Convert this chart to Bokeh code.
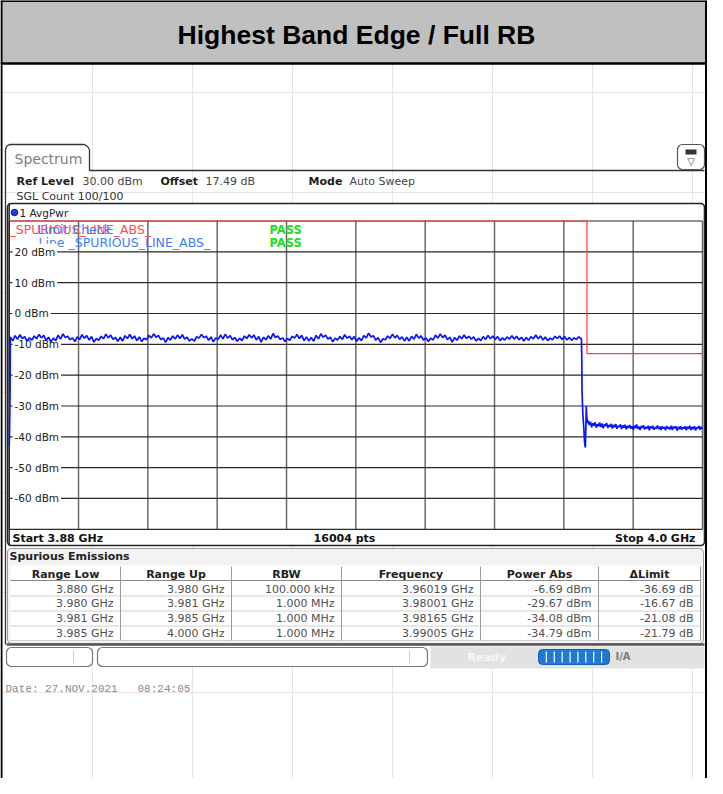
import numpy as np
from bokeh.plotting import figure
from bokeh.models import Range1d
from bokeh.core.properties import value
from bokeh.embed import file_html
from bokeh.resources import INLINE

# ---------------- data ----------------
title = "Highest Band Edge / Full RB"
freq_start, freq_stop = 3.88, 4.0
freq_div = 0.012
db_ticks = [30, 20, 10, 0, -10, -20, -30, -40, -50, -60, -70]
db_labels = ["20 dBm", "10 dBm", "0 dBm", "-10 dBm", "-20 dBm", "-30 dBm", "-40 dBm", "-50 dBm", "-60 dBm"]
db_label_vals = [20, 10, 0, -10, -20, -30, -40, -50, -60]

limit_f = [3.88, 3.98, 3.98, 4.0]
limit_db = [30, 30, -13, -13]

start_f = [3.8800, 3.88003, 3.88006, 3.8801, 3.88015]
start_db = [-43.0, -41.0, -38.0, -33.0, -25.0]

inband_db = [
    -7.6, -8.9, -7.2, -8.4, -6.9, -8.1, -7.5, -9.0, -7.9, -8.6,
    -7.3, -8.2, -6.8, -7.9, -7.1, -8.7, -7.7, -9.2, -8.0, -8.8,
    -7.0, -8.3, -6.6, -7.8, -7.4, -8.5, -7.9, -9.1, -7.6, -8.4,
    -6.9, -8.0, -7.2, -8.6, -7.5, -9.3, -8.1, -8.7, -7.4, -8.2,
    -6.7, -7.9, -7.0, -8.4, -7.8, -9.0, -7.7, -8.9, -7.2, -8.1,
    -6.8, -8.2, -7.3, -8.8, -7.6, -9.1, -8.0, -8.5, -7.1, -7.9,
    -6.6, -7.7, -7.1, -8.5, -7.9, -9.4, -7.8, -8.6, -7.3, -8.3,
    -7.0, -8.1, -6.9, -8.3, -7.7, -8.9, -8.2, -9.0, -7.5, -8.0,
    -6.8, -7.8, -7.4, -8.7, -7.6, -9.2, -7.9, -8.4, -7.0, -8.2,
    -6.7, -8.0, -7.2, -8.5, -7.8, -9.0, -8.0, -8.8, -7.3, -8.1,
    -6.9, -7.9, -7.0, -8.6, -7.5, -9.3, -7.7, -8.5, -7.2, -8.3,
    -6.5, -7.8, -7.3, -8.4, -7.9, -9.1, -8.1, -8.7, -7.4, -8.0,
    -6.8, -8.1, -7.1, -8.8, -7.6, -8.9, -7.8, -9.0, -7.1, -8.2,
    -6.6, -7.7, -7.0, -8.3, -7.7, -9.2, -8.0, -8.6, -7.5, -8.4,
    -6.9, -8.0, -7.4, -8.5, -7.5, -9.0, -7.9, -8.8, -7.2, -7.9,
    -6.4, -7.6, -7.2, -8.7, -7.8, -9.4, -8.2, -8.5, -7.3, -8.1,
    -6.7, -7.9, -7.1, -8.4, -7.6, -8.9, -7.7, -8.9, -7.4, -8.3,
    -6.8, -8.0, -7.3, -8.6, -7.9, -9.1, -8.0, -8.6, -7.0, -8.0,
    -6.6, -7.8, -7.0, -8.5, -7.7, -9.3, -7.8, -8.7, -7.3, -8.2,
    -7.0, -8.1, -7.4, -8.3, -7.6, -8.9, -8.1, -8.8, -7.5, -8.4,
    -7.1, -8.2, -7.3, -8.4, -7.5, -8.8, -7.9, -8.6, -7.6, -8.3,
    -7.2, -8.3, -7.4, -8.5, -7.7, -8.9, -7.8, -8.7, -7.5, -8.2,
    -7.0, -8.2, -7.3, -8.6, -7.6, -8.8, -8.0, -8.5, -7.4, -8.1,
    -7.3, -8.4, -7.5, -8.6, -7.8, -8.7, -7.9, -8.4, -7.6, -8.2,
]
inband_f0, inband_f1 = 3.8802, 3.9790

edge_f = [3.97905, 3.9791, 3.97915, 3.9793, 3.97945, 3.9796, 3.97972, 3.9798, 3.97988, 3.97995, 3.9801]
edge_db = [-8.2, -14.0, -25.0, -33.0, -37.0, -42.0, -43.5, -38.0, -30.0, -33.0, -35.5]

oob_db = [
    -34.8, -36.2, -35.1, -36.9, -35.6, -36.4, -35.3, -37.0, -35.9, -36.6,
    -35.4, -36.8, -35.7, -37.2, -36.0, -36.5, -35.5, -37.1, -36.2, -36.7,
    -35.8, -37.3, -36.1, -36.9, -35.9, -37.4, -36.4, -36.8, -36.0, -37.5,
    -36.3, -37.0, -36.1, -37.6, -36.5, -37.1, -36.2, -37.3, -36.6, -37.7,
    -36.4, -37.2, -36.0, -37.4, -36.7, -37.8, -36.5, -37.1, -36.3, -37.6,
    -36.8, -37.3, -36.4, -37.9, -36.6, -37.2, -36.5, -37.7, -36.9, -37.4,
    -36.3, -37.5, -36.7, -37.8, -36.6, -37.3, -36.8, -37.9, -36.5, -37.4,
    -36.9, -37.6, -36.4, -37.8, -36.7, -37.2, -36.6, -38.0, -36.8, -37.5,
    -36.5, -37.7, -36.9, -37.3, -36.6, -37.9, -36.7, -37.4, -36.4, -37.8,
    -36.8, -37.5, -36.6, -37.9, -36.9, -37.3, -36.5, -37.7, -36.8, -37.4,
]
oob_f0, oob_f1 = 3.9802, 4.0

tbl_head = ["Range Low", "Range Up", "RBW", "Frequency", "Power Abs", "\u0394Limit"]
range_low = ["3.880 GHz", "3.980 GHz", "3.981 GHz", "3.985 GHz"]
range_up = ["3.980 GHz", "3.981 GHz", "3.985 GHz", "4.000 GHz"]
rbw = ["100.000 kHz", "1.000 MHz", "1.000 MHz", "1.000 MHz"]
peak_freq = ["3.96019 GHz", "3.98001 GHz", "3.98165 GHz", "3.99005 GHz"]
power_abs = ["-6.69 dBm", "-29.67 dBm", "-34.08 dBm", "-34.79 dBm"]
delta_limit = ["-36.69 dB", "-16.67 dB", "-21.08 dB", "-21.79 dB"]

# ---------------- canvas (page pixel coordinates) ----------------
W, H = 707, 778
p = figure(width=W, height=H, x_range=Range1d(8, 8 + W), y_range=Range1d(8 + H, 8),
           output_backend="svg", toolbar_location=None,
           x_axis_location=None, y_axis_location=None, min_border=0)
p.outline_line_color = None
p.background_fill_color = "white"
p.border_fill_color = "white"

# spectrum grid placement on page
X0, X1 = 16.7, 710.0
Y0, Y1 = 228.5, 536.8
kx = (freq_stop - freq_start) / (X1 - X0)
ky = (db_ticks[0] - db_ticks[-1]) / (Y1 - Y0)
p.extra_x_ranges = {"f": Range1d(freq_start - (X0 - 8) * kx, freq_stop + (8 + W - X1) * kx)}
p.extra_y_ranges = {"d": Range1d(db_ticks[-1] - (8 + H - Y1) * ky, db_ticks[0] + (Y0 - 8) * ky)}

SANS = value("DejaVu Sans")


def txt(x, y, s, size="11px", color="#222222", bold=False, align="left", font=SANS, **kw):
    p.text(x=[x], y=[y], text=[s], text_font=font, text_font_size=size, text_color=color,
           text_font_style="bold" if bold else "normal", text_align=align, text_baseline="middle", **kw)


def box(l, r, t, b, fill="white", line="#666666", lw=1.0, radius=0):
    p.quad(left=[l], right=[r], top=[t], bottom=[b], fill_color=fill, line_color=line,
           line_width=lw, border_radius=radius)


# ---------------- outer frame / title ----------------
box(8, 715, 8, 71, fill="#c0c0c0", line=None)
p.line([8, 715], [8.5, 8.5], line_color="black", line_width=2)
p.line([8, 715], [71, 71], line_color="black", line_width=2.5)
p.line([9, 9], [8, 786], line_color="black", line_width=2)
p.line([714, 714], [8, 786], line_color="black", line_width=3)
txt(364, 42, title, size="26.5px", color="black", bold=True, align="center", font=value("Liberation Sans"))

# ---------------- spectrum window ----------------
tab_x = [13, 13, 14, 17, 92, 95, 97, 97, 712]
tab_y = [652, 157, 154, 152, 152, 154, 157, 178, 178]
p.line(tab_x, tab_y, line_color="#333333", line_width=1.3)
txt(22, 166, "Spectrum", size="14px", color="#808080")
box(685, 712, 152, 177, fill="white", line="#555555", lw=1.2, radius=5)
box(693, 704, 157, 162, fill="#333333", line=None)
txt(698.5, 169, "\u25bd", size="10px", color="#444444", align="center")

txt(24, 189, "Ref Level", bold=True)
txt(90, 189, "30.00 dBm", color="#444444")
txt(168, 189, "Offset", bold=True)
txt(213, 189, "17.49 dB", color="#444444")
txt(316, 189, "Mode", bold=True)
txt(357, 189, "Auto Sweep", color="#444444")
txt(24, 204, "SGL Count 100/100", color="#333333")

# diagram box
box(15, 712, 211, 553, fill="white", line="#222222", lw=1.6, radius=4)
p.circle(x=[22], y=[220], radius=3.3, fill_color="#1f3cff", line_color="#000066", line_width=0.8)
txt(27, 220, "1 AvgPwr", size="10.5px", color="#222222")

# grid
gx = [freq_start + freq_div * i for i in range(11)]
p.multi_line(xs=[[g, g] for g in gx], ys=[[db_ticks[0], db_ticks[-1]]] * len(gx),
             x_range_name="f", y_range_name="d", line_color="#6a6a6a", line_width=1.5)
p.multi_line(xs=[[freq_start, freq_stop]] * len(db_ticks), ys=[[d, d] for d in db_ticks],
             x_range_name="f", y_range_name="d", line_color="#2a2a2a", line_width=1.2)
p.line([X0, X0], [211, 553], line_color="#222222", line_width=1.4)

# limit check texts
txt(17, 237, "_SPURIOUS_LINE_ABS_", size="12.5px", color="#ff4a4a")
txt(45, 237, "Limit Check", size="12.5px", color="#3d7dff")
txt(277, 237, "PASS", size="11.5px", color="#22dd22", bold=True)
txt(46, 250, "Line _SPURIOUS_LINE_ABS_", size="12.5px", color="#3d7dff")
txt(277, 250.5, "PASS", size="11.5px", color="#22dd22", bold=True)

# y labels
p.text(x=[20] * len(db_labels), y=db_label_vals, text=db_labels, y_range_name="d",
       text_font=SANS, text_font_size="10.5px", text_color="#222222", text_baseline="middle",
       background_fill_color="white", padding=2)

# limit line
p.line(limit_f, limit_db, x_range_name="f", y_range_name="d", line_color="#ff3b3b", line_width=1.2)

# trace
inband_f = list(np.linspace(inband_f0, inband_f1, len(inband_db)))
oob_f = list(np.linspace(oob_f0, oob_f1, len(oob_db)))
tr_f = start_f + inband_f + edge_f + oob_f
tr_db = start_db + inband_db + edge_db + oob_db
p.line(tr_f, tr_db, x_range_name="f", y_range_name="d", line_color="#0a14ff", line_width=1.7)

# bottom row of the diagram
txt(20, 545.5, "Start 3.88 GHz", bold=True, color="#111111")
txt(352, 545.5, "16004 pts", bold=True, color="#111111", align="center")
txt(703, 545.5, "Stop 4.0 GHz", bold=True, color="#111111", align="right")

# ---------------- spurious emissions table ----------------
box(15, 711, 556, 651, fill="#f3f3f3", line="#9a9a9a", lw=1, radius=4)
txt(17, 564, "Spurious Emissions", bold=True, color="#222222")
col_edges = [18, 128, 239, 349, 488, 606, 708]
row_edges = [573, 588, 603.5, 618.5, 633.5, 648]
box(18, 708, 573, 648, fill="white", line=None)
p.multi_line(xs=[[18, 708]] * (len(row_edges) - 2), ys=[[r, r] for r in row_edges[2:]],
             line_color="#cfcfcf", line_width=1)
p.line([18, 708], [588, 588], line_color="#8a8a8a", line_width=1.2)
p.multi_line(xs=[[c, c] for c in col_edges[1:]], ys=[[574, 648]] * (len(col_edges) - 1),
             line_color="#9a9a9a", line_width=1)
for i, h in enumerate(tbl_head):
    txt((col_edges[i] + col_edges[i + 1]) / 2, 581.5, h, bold=True, color="#222222", align="center")
cols = [range_low, range_up, rbw, peak_freq, power_abs, delta_limit]
row_y = [596.5, 611, 626, 641]
for ci, col in enumerate(cols):
    p.text(x=[col_edges[ci + 1] - 7] * len(col), y=row_y, text=col, text_font=SANS,
           text_font_size="11px", text_color="#505050", text_align="right", text_baseline="middle")
p.line([14, 712], [652, 652], line_color="#555555", line_width=2.5)

# ---------------- status bar ----------------
box(438, 712, 654, 676, fill="#e2e2e2", line=None)
box(14, 100, 655, 674, fill="white", line="#777777", lw=1.2, radius=5)
p.line([81, 81], [658, 671], line_color="#cccccc", line_width=1)
box(105, 435, 655, 674, fill="white", line="#777777", lw=1.2, radius=5)
p.line([417, 417], [658, 671], line_color="#cccccc", line_width=1)
txt(475, 665, "Ready", bold=True, color="#f6f6f6")
box(546, 617, 657, 672, fill="#1f78d6", line="#1560b0", lw=1, radius=4)
seg = [553.9, 561.8, 569.7, 577.6, 585.4, 593.3, 601.2, 609.1]
p.multi_line(xs=[[s, s] for s in seg], ys=[[659, 670]] * len(seg), line_color="white", line_width=1.2)
txt(623, 664, "I/A", bold=True, color="#7a7a7a", size="10px")

# ---------------- date ----------------
txt(13, 696, "Date: 27.NOV.2021\u00a0\u00a0\u00a008:24:05", size="11px", color="#8a8a8a",
    font=value("Liberation Mono"))

open("out.html", "w").write(file_html(p, INLINE))
